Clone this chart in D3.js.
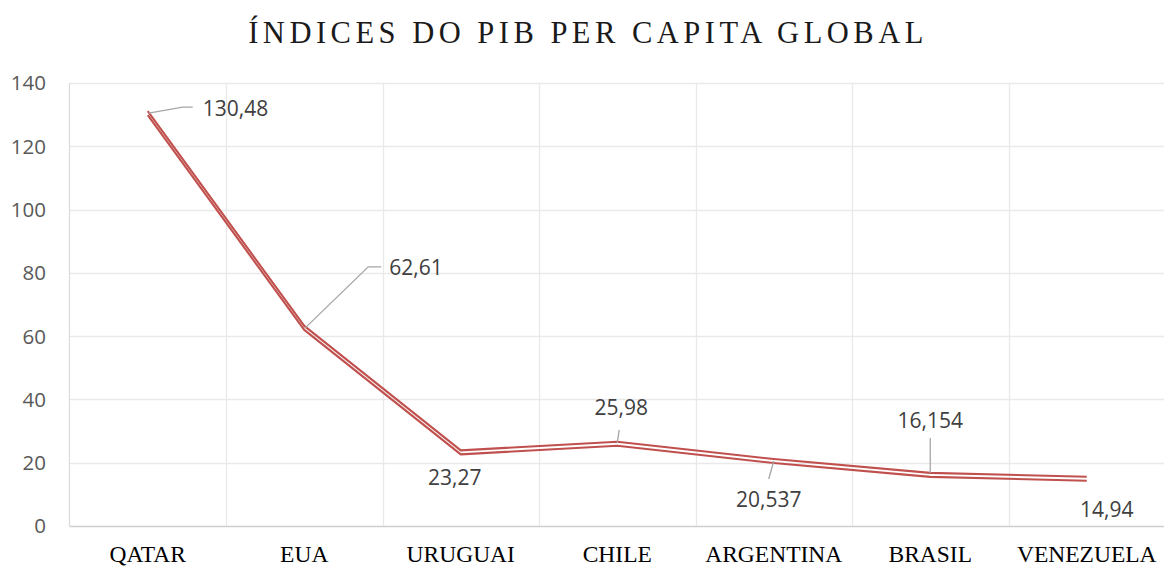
<!DOCTYPE html>
<html>
<head>
<meta charset="utf-8">
<script src="https://cdn.jsdelivr.net/npm/d3@7"></script>
<style>
  html, body { margin: 0; padding: 0; background: #fff; }
  svg { display: block; }
</style>
</head>
<body>
<div id="chart"></div>
<script>
// data
var countries = ["QATAR", "EUA", "URUGUAI", "CHILE", "ARGENTINA", "BRASIL", "VENEZUELA"];
var gdpIndex = [130.48, 62.61, 23.27, 25.98, 20.537, 16.154, 14.94];
var yTicks = [0, 20, 40, 60, 80, 100, 120, 140];

// label placement (px offsets from point), leader = polyline offsets or null
var labelLayout = [
  { dx: 55, dy: -5, anchor: "start", leader: [[1, 0], [35, -6], [45, -6]] },
  { dx: 85, dy: -60, anchor: "start", leader: [[1, 0], [64, -61], [77, -61]] },
  { dx: -6, dy: 25, anchor: "middle", leader: null },
  { dx: 4, dy: -36, anchor: "middle", leader: [[0, -1], [2, -14]] },
  { dx: -5, dy: 38, anchor: "middle", leader: [[0, 0], [-5, 18]] },
  { dx: 0, dy: -54, anchor: "middle", leader: [[0, -2], [0, -37]] },
  { dx: 20, dy: 31, anchor: "middle", leader: null }
];

var width = 1164, height = 566;
var plot = { left: 69.5, right: 1165, top: 83, bottom: 526 };

var svg = d3.select("#chart").append("svg")
    .attr("width", width)
    .attr("height", height);

var x = d3.scaleBand()
    .domain(countries)
    .range([plot.left, plot.right]);

var y = d3.scaleLinear()
    .domain([0, 140])
    .range([plot.bottom, plot.top]);

// title
svg.append("text")
    .attr("x", 588)
    .attr("y", 43)
    .attr("text-anchor", "middle")
    .style("font-family", "'Liberation Serif', 'Times New Roman', serif")
    .style("font-size", "30.5px")
    .style("letter-spacing", "4.5px")
    .style("fill", "#1a1a1a")
    .text("ÍNDICES DO PIB PER CAPITA GLOBAL");

// horizontal gridlines
svg.append("g")
    .selectAll("line")
    .data(yTicks.slice(1))
    .enter().append("line")
    .attr("x1", plot.left)
    .attr("x2", plot.right)
    .attr("y1", d => Math.round(y(d)) + 0.5)
    .attr("y2", d => Math.round(y(d)) + 0.5)
    .attr("stroke", "#e9e9e9")
    .attr("stroke-width", 1.3);

// vertical gridlines (category boundaries)
svg.append("g")
    .selectAll("line")
    .data(countries.slice(1))
    .enter().append("line")
    .attr("x1", d => Math.round(x(d)) + 0.5)
    .attr("x2", d => Math.round(x(d)) + 0.5)
    .attr("y1", plot.top)
    .attr("y2", plot.bottom)
    .attr("stroke", "#e9e9e9")
    .attr("stroke-width", 1.3);

// left edge + bottom axis line
svg.append("line")
    .attr("x1", plot.left).attr("x2", plot.left)
    .attr("y1", plot.top).attr("y2", plot.bottom)
    .attr("stroke", "#dadada").attr("stroke-width", 1.2);

svg.append("line")
    .attr("x1", plot.left).attr("x2", plot.right)
    .attr("y1", plot.bottom + 0.5).attr("y2", plot.bottom + 0.5)
    .attr("stroke", "#cfcfcf").attr("stroke-width", 1.3);

// y tick labels
svg.append("g")
    .selectAll("text")
    .data(yTicks)
    .enter().append("text")
    .attr("x", 46)
    .attr("y", d => y(d))
    .attr("dy", "0.36em")
    .attr("text-anchor", "end")
    .style("font-family", "'Open Sans', sans-serif")
    .style("font-size", "20.5px")
    .style("fill", "#595959")
    .text(d => d);

// category labels
svg.append("g")
    .selectAll("text")
    .data(countries)
    .enter().append("text")
    .attr("x", d => x(d) + x.bandwidth() / 2)
    .attr("y", 562)
    .attr("text-anchor", "middle")
    .style("font-family", "'Liberation Serif', 'Times New Roman', serif")
    .style("font-size", "23.5px")
    .style("fill", "#000")
    .text(d => d);

// line (double stroke)
var points = countries.map((c, i) => [x(c) + x.bandwidth() / 2, y(gdpIndex[i])]);
var line = d3.line();

[-2, 2].forEach(function (off) {
    svg.append("path")
        .attr("d", line(points))
        .attr("transform", `translate(0, ${off})`)
        .attr("fill", "none")
        .attr("stroke", "#c0504d")
        .attr("stroke-width", 2.1)
        .attr("stroke-linejoin", "round");
});

// leader lines + value labels
var labels = svg.append("g");
points.forEach(function (p, i) {
    var lay = labelLayout[i];
    if (lay.leader) {
        labels.append("polyline")
            .attr("points", lay.leader.map(o => (p[0] + o[0]) + "," + (p[1] + o[1])).join(" "))
            .attr("fill", "none")
            .attr("stroke", "#a6a6a6")
            .attr("stroke-width", 1.3);
    }
    labels.append("text")
        .attr("x", p[0] + lay.dx)
        .attr("y", p[1] + lay.dy)
        .attr("dy", "0.36em")
        .attr("text-anchor", lay.anchor)
        .style("font-family", "'Open Sans', sans-serif")
        .style("font-size", "21px")
        .style("fill", "#404040")
        .text(String(gdpIndex[i]).replace(".", ","));
});
</script>
</body>
</html>
